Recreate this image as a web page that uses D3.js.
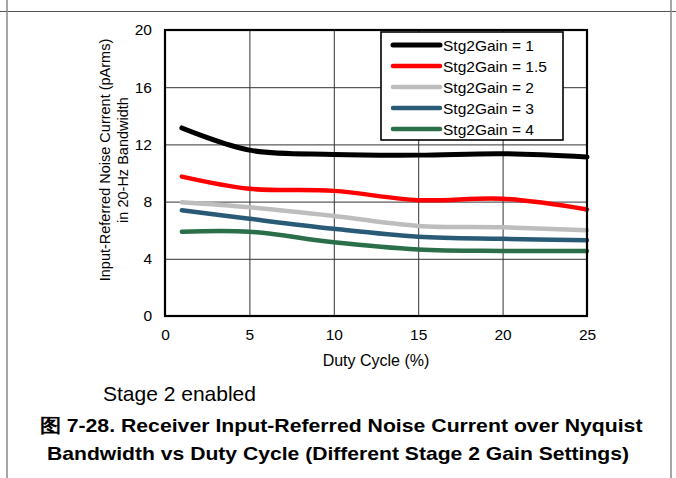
<!DOCTYPE html>
<html>
<head>
<meta charset="utf-8">
<script src="https://cdn.jsdelivr.net/npm/d3@7/dist/d3.min.js"></script>
<style>
  html, body { margin: 0; padding: 0; background: #fff; }
  svg { display: block; font-family: "Liberation Sans", Arial, sans-serif; }
</style>
</head>
<body>
<svg id="chart" width="676" height="478"></svg>
<script>
// ---- data ----
const dutyCycle = [1, 5, 10, 15, 20, 25];
const gain1   = [13.15, 11.6, 11.3, 11.25, 11.35, 11.12];
const gain1p5 = [9.75, 8.9, 8.75, 8.1, 8.2, 7.45];
const gain2   = [7.95, 7.6, 7.0, 6.3, 6.2, 6.0];
const gain3   = [7.4, 6.8, 6.1, 5.55, 5.4, 5.3];
const gain4   = [5.9, 5.9, 5.15, 4.65, 4.55, 4.55];
const seriesNames = ["Stg2Gain = 1", "Stg2Gain = 1.5", "Stg2Gain = 2", "Stg2Gain = 3", "Stg2Gain = 4"];
const xTicks = [0, 5, 10, 15, 20, 25];
const yTicks = [0, 4, 8, 12, 16, 20];
const xTitle = "Duty Cycle (%)";
const yTitle1 = "Input-Referred Noise Current (pArms)";
const yTitle2 = "in 20-Hz Bandwidth";
const note = "Stage 2 enabled";
const caption1 = "图 7-28. Receiver Input-Referred Noise Current over Nyquist";
const caption2 = "Bandwidth vs Duty Cycle (Different Stage 2 Gain Settings)";

const seriesValues = [gain1, gain1p5, gain2, gain3, gain4];
const colors = ["#000000", "#ff0000", "#bdbdbd", "#2a5b76", "#2b6e4a"];
const widths = [5, 4.5, 4.5, 4.5, 4.5];

// ---- layout ----
const svg = d3.select("#chart");
const L = 165, R = 587, T = 30, B = 316;

// page frame
svg.append("line").attr("x1", 0).attr("x2", 676).attr("y1", 11.5).attr("y2", 11.5)
  .attr("stroke", "#555").attr("stroke-width", 1.2);
svg.append("line").attr("x1", 7).attr("x2", 7).attr("y1", 0).attr("y2", 478)
  .attr("stroke", "#888").attr("stroke-width", 1.5);
svg.append("line").attr("x1", 671).attr("x2", 671).attr("y1", 0).attr("y2", 478)
  .attr("stroke", "#888").attr("stroke-width", 1.5);

const x = d3.scaleLinear().domain([0, 25]).range([L, R]);
const y = d3.scaleLinear().domain([0, 20]).range([B, T]);

// gridlines
svg.append("g").attr("transform", `translate(0,${B})`)
  .call(d3.axisBottom(x).tickValues(xTicks).tickSize(-(B - T)).tickFormat(""))
  .call(g => g.select(".domain").remove())
  .call(g => g.selectAll("line").attr("stroke", "#333").attr("stroke-width", 1));
svg.append("g").attr("transform", `translate(${L},0)`)
  .call(d3.axisLeft(y).tickValues(yTicks).tickSize(-(R - L)).tickFormat(""))
  .call(g => g.select(".domain").remove())
  .call(g => g.selectAll("line").attr("stroke", "#333").attr("stroke-width", 1));

// tick labels
svg.append("g").attr("transform", `translate(0,${B})`)
  .call(d3.axisBottom(x).tickValues(xTicks).tickSize(0).tickPadding(13).tickFormat(d3.format("d")))
  .call(g => g.select(".domain").remove())
  .call(g => g.selectAll("text").attr("font-size", 15.5).attr("fill", "#000")
    .attr("font-family", "Liberation Sans, Arial, sans-serif"));
svg.append("g").attr("transform", `translate(${L},0)`)
  .call(d3.axisLeft(y).tickValues(yTicks).tickSize(0).tickPadding(13).tickFormat(d3.format("d")))
  .call(g => g.select(".domain").remove())
  .call(g => g.selectAll("text").attr("font-size", 15.5).attr("fill", "#000")
    .attr("font-family", "Liberation Sans, Arial, sans-serif"));

// series
const line = d3.line().x((d, i) => x(dutyCycle[i])).y(d => y(d)).curve(d3.curveCatmullRom.alpha(0.5));
const drawOrder = [4, 3, 2, 1, 0];
drawOrder.forEach(k => {
  svg.append("path").datum(seriesValues[k]).attr("d", line)
    .attr("fill", "none").attr("stroke", colors[k]).attr("stroke-width", widths[k])
    .attr("stroke-linecap", "round").attr("stroke-linejoin", "round");
});

// plot frame
svg.append("rect").attr("x", L).attr("y", T).attr("width", R - L).attr("height", B - T)
  .attr("fill", "none").attr("stroke", "#000").attr("stroke-width", 2.2);

// legend
const lg = svg.append("g");
lg.append("rect").attr("x", 381).attr("y", 32).attr("width", 182).attr("height", 108)
  .attr("fill", "#fff").attr("stroke", "#000").attr("stroke-width", 1.6);
seriesNames.forEach((name, i) => {
  const yy = 45 + i * 21;
  lg.append("line").attr("x1", 393).attr("x2", 440).attr("y1", yy).attr("y2", yy)
    .attr("stroke", colors[i]).attr("stroke-width", widths[i]).attr("stroke-linecap", "round");
  lg.append("text").attr("x", 443).attr("y", yy + 5.5).attr("font-size", 15.5).text(name);
});

// axis titles
svg.append("text").attr("x", x(12.5)).attr("y", 366).attr("text-anchor", "middle")
  .attr("font-size", 16).text(xTitle);
const yt = svg.append("text").attr("transform", "translate(0,160) rotate(-90)")
  .attr("text-anchor", "middle").attr("font-size", 14.5);
yt.append("tspan").attr("x", 0).attr("y", 110).text(yTitle1);
yt.append("tspan").attr("x", 0).attr("y", 128).text(yTitle2);

// note
svg.append("text").attr("x", 103).attr("y", 401).attr("font-size", 21).text(note);

// caption
svg.append("text").attr("x", 341).attr("y", 432).attr("text-anchor", "middle")
  .attr("font-size", 19).attr("font-weight", "bold")
  .attr("textLength", 603).attr("lengthAdjust", "spacingAndGlyphs").text(caption1);
svg.append("text").attr("x", 338).attr("y", 460).attr("text-anchor", "middle")
  .attr("font-size", 19).attr("font-weight", "bold")
  .attr("textLength", 582).attr("lengthAdjust", "spacingAndGlyphs").text(caption2);
</script>
</body>
</html>
